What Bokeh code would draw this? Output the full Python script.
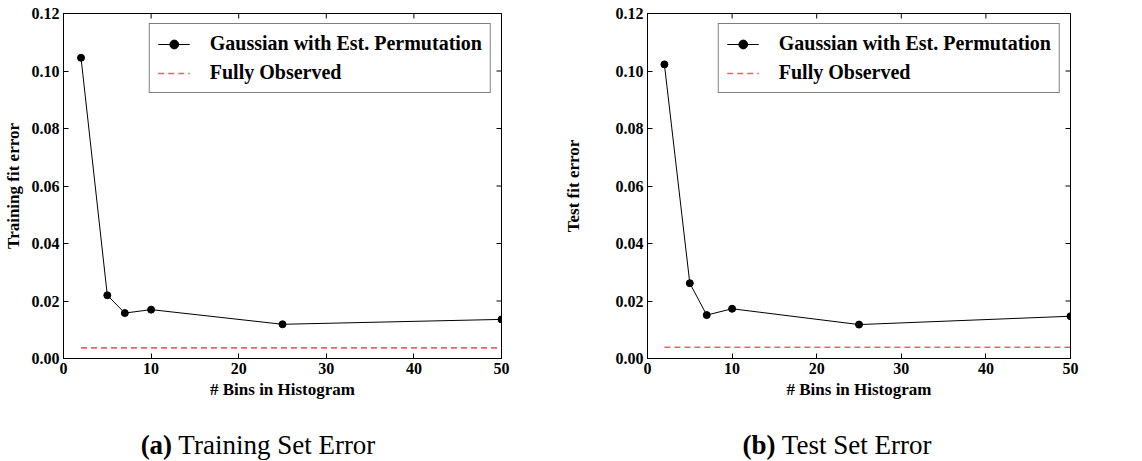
import math
from bokeh.plotting import figure
from bokeh.models import Range1d, FixedTicker, Legend, LegendItem, Div
from bokeh.layouts import row, column
from bokeh.embed import file_html
from bokeh.resources import INLINE

bins = [2, 5, 7, 10, 25, 50]
train_err = [0.1046, 0.0220, 0.0158, 0.0170, 0.0119, 0.0136]
test_err = [0.1023, 0.0262, 0.0151, 0.0173, 0.0118, 0.0147]
full_x = [2, 50]
full_train = [0.0037, 0.0037]
full_test = [0.0039, 0.0039]
x_ticks = [0, 10, 20, 30, 40, 50]
y_ticks = [0.0, 0.02, 0.04, 0.06, 0.08, 0.10, 0.12]
y_labels = ["0.00", "0.02", "0.04", "0.06", "0.08", "0.10", "0.12"]
series_label = "Gaussian with Est. Permutation"
full_label = "Fully Observed"
x_title = "# Bins in Histogram"

FONT = "Liberation Serif"
X_MAX = 50
Y_MAX = 0.12


def style_axis(ax):
    ax.axis_line_color = "black"
    ax.major_tick_in = 5
    ax.major_tick_out = 0
    ax.minor_tick_in = 0
    ax.minor_tick_out = 0
    ax.major_tick_line_color = "black"
    ax.major_label_text_font = FONT
    ax.major_label_text_font_style = "bold"
    ax.major_label_text_font_size = "16px"
    ax.major_label_text_color = "black"
    ax.major_label_standoff = 4
    ax.axis_label_text_font = FONT
    ax.axis_label_text_font_style = "bold"
    ax.axis_label_text_font_size = "17px"
    ax.axis_label_text_color = "black"


def make_panel(yvals, fullvals, ylabel, width, bl, br, ylab_standoff):
    p = figure(width=width, height=401, output_backend="svg", toolbar_location=None,
               x_range=Range1d(0, X_MAX), y_range=Range1d(0, Y_MAX),
               min_border_left=bl, min_border_right=br, min_border_top=13,
               min_border_bottom=43, x_axis_label=x_title,
               y_axis_label=ylabel)
    p.grid.visible = False
    p.outline_line_color = "black"
    p.outline_line_width = 1
    p.background_fill_color = "white"
    p.border_fill_color = "white"
    p.xaxis.ticker = FixedTicker(ticks=x_ticks)
    p.yaxis.ticker = FixedTicker(ticks=y_ticks)
    p.yaxis.major_label_overrides = {t: l for t, l in zip(y_ticks, y_labels)}
    style_axis(p.xaxis[0])
    style_axis(p.yaxis[0])
    p.xaxis.axis_label_standoff = 3
    p.yaxis.axis_label_standoff = ylab_standoff

    # inward ticks on the top and right edges of the frame
    p.scatter(x_ticks, [Y_MAX] * len(x_ticks), marker="dash", angle=math.pi / 2,
              size=10, line_color="black", line_width=1)
    p.scatter([X_MAX] * len(y_ticks), y_ticks, marker="dash",
              size=10, line_color="black", line_width=1)

    r_full = p.line(full_x, fullvals, line_color="#e5484d", line_alpha=0.85,
                    line_width=1.6, line_dash="6 4")
    r_line = p.line(bins, yvals, line_color="black", line_width=1)
    r_pts = p.scatter(bins, yvals, size=7, marker="circle", fill_color="black",
                      line_color="black")

    legend = Legend(items=[LegendItem(label=series_label, renderers=[r_line, r_pts]),
                           LegendItem(label=full_label, renderers=[r_full])],
                    location="top_right")
    legend.label_text_font = FONT
    legend.label_text_font_style = "bold"
    legend.label_text_font_size = "20px"
    legend.label_text_color = "black"
    legend.border_line_color = "black"
    legend.border_line_width = 1
    legend.background_fill_alpha = 1
    legend.padding = 8
    legend.spacing = 6
    legend.margin = 10
    legend.glyph_width = 32
    legend.glyph_height = 22
    legend.label_height = 22
    legend.label_standoff = 20
    p.add_layout(legend)
    return p


def caption(tag, text, width, inner_w):
    style = ("font-family:'Liberation Serif';font-size:27px;color:black;"
             "text-align:center;width:%dpx;padding-top:25px;margin:0;"
             "white-space:nowrap;" % inner_w)
    return Div(text='<div style="%s"><b>%s</b> %s</div>' % (style, tag, text),
               width=width, height=60, margin=0)


p1 = make_panel(train_err, full_train, "Training fit error", 560, 61, 59, 6)
p2 = make_panel(test_err, full_test, "Test fit error", 582, 87, 72, 30)

d1 = caption("(a)", "Training Set Error", 560, 516)
d2 = caption("(b)", "Test Set Error", 582, 554)

layout = row(column(p1, d1, spacing=0), column(p2, d2, spacing=0), spacing=0)
open("out.html", "w").write(file_html(layout, INLINE))
